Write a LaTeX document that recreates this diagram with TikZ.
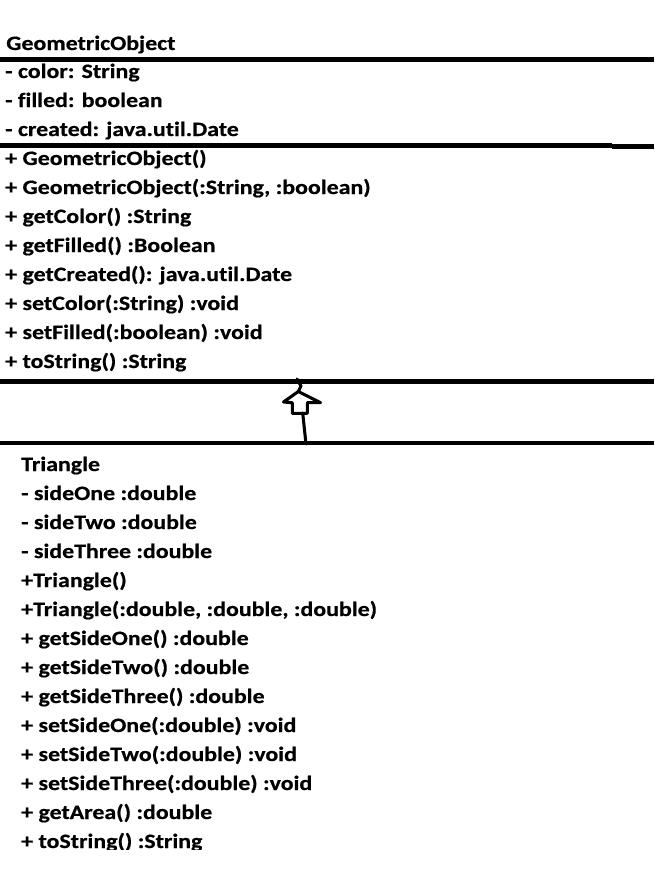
\documentclass[tikz,border=0pt]{standalone}
\usepackage{fontspec}
\setmainfont[Ligatures={NoCommon},BoldFeatures={FakeStretch=1.17,FakeBold=0.6}]{Carlito}
\begin{document}
\begin{tikzpicture}[x=0.75pt,y=-0.75pt,
  txt/.style={anchor=base west,inner sep=0pt,font=\bfseries\fontsize{15.3}{18}\selectfont},
  rule/.style={line width=3.4pt},
  arr/.style={line width=2.3pt,line join=round,line cap=round}]
\useasboundingbox (0,0) rectangle (654,878);
% rules
\draw[rule] (0,59.5) -- (654,59.5);
\draw[rule] (0,145.5) -- (612,145.5);
\draw[rule] (612,146.5) -- (654,146.5);
\draw[rule] (0,381.5) -- (654,381.5);
\draw[rule] (0,443) -- (654,443);
% GeometricObject
\node[txt] (g0) at (6,50) {GeometricObject};
\node[txt] (g1) at (5,78) {- color: String};
\node[txt] (g2) at (5,107) {- filled: boolean};
\node[txt] (g3) at (5,136) {- created: java.util.Date};
\node[txt] (g4) at (5,165) {+ GeometricObject()};
\node[txt] (g5) at (5,194) {+ GeometricObject(:String, :boolean)};
\node[txt] (g6) at (5,223) {+ getColor() :String};
\node[txt] (g7) at (5,252) {+ getFilled() :Boolean};
\node[txt] (g8) at (5,281) {+ getCreated(): java.util.Date};
\node[txt] (g9) at (5,310) {+ setColor(:String) :void};
\node[txt] (g10) at (5,339) {+ setFilled(:boolean) :void};
\node[txt] (g11) at (5,368) {+ toString() :String};
% Triangle
\begin{scope}
\clip (0,446) rectangle (654,849.5);
\node[txt] (t0) at (21,471) {Triangle};
\node[txt] (t1) at (21,500) {- sideOne :double};
\node[txt] (t2) at (21,529) {- sideTwo :double};
\node[txt] (t3) at (21,558) {- sideThree :double};
\node[txt] (t4) at (21,587) {+Triangle()};
\node[txt] (t5) at (21,616) {+Triangle(:double, :double, :double)};
\node[txt] (t6) at (21,645) {+ getSideOne() :double};
\node[txt] (t7) at (21,674) {+ getSideTwo() :double};
\node[txt] (t8) at (21,703) {+ getSideThree() :double};
\node[txt] (t9) at (21,732) {+ setSideOne(:double) :void};
\node[txt] (t10) at (21,761) {+ setSideTwo(:double) :void};
\node[txt] (t11) at (21,790) {+ setSideThree(:double) :void};
\node[txt] (t12) at (21,819) {+ getArea() :double};
\node[txt] (t13) at (21,848) {+ toString() :String};
\end{scope}
% inheritance arrow
\coordinate (sb) at (306,444);
\coordinate (st) at (302.7,413);
\coordinate (tip) at (298.3,391.5);
\coordinate (top) at (297,379);
\draw[arr] (sb) -- (st);
\draw[arr] (tip) -- (320.5,402.7) -- (307.3,402.7) -- (307.3,413.3) -- (292.3,413.3) -- (292.3,402.7) -- (283.5,402) -- cycle;
\draw[arr] (tip) -- (301,386) -- (top);
\end{tikzpicture}
\end{document}
